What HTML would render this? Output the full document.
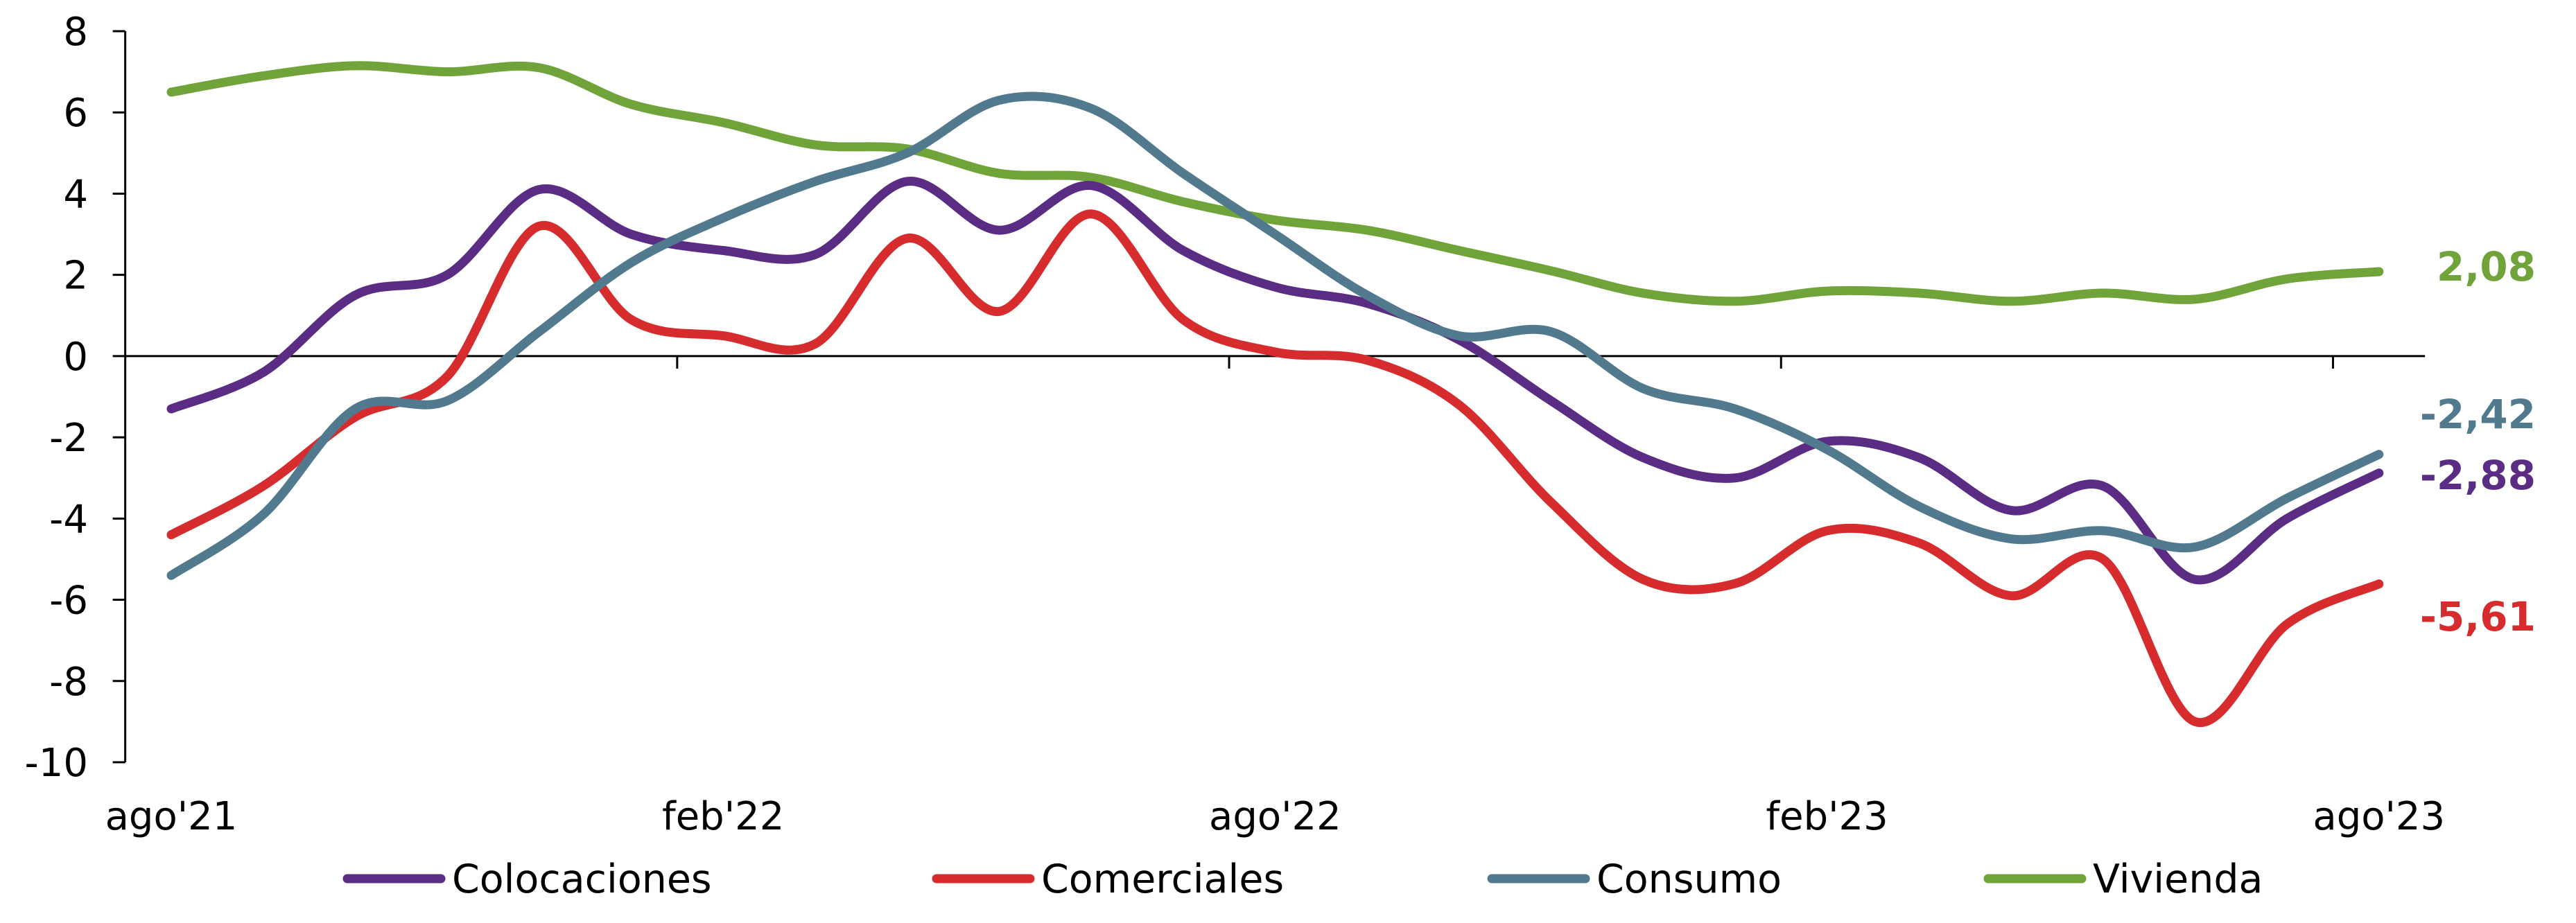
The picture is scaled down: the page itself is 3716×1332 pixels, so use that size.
<!DOCTYPE html>
<html><head><meta charset="utf-8"><style>
html,body{margin:0;padding:0;background:#fff;}
svg{display:block;font-family:"DejaVu Sans","Liberation Sans",sans-serif;}
</style></head><body>
<svg id="chart" width="3716" height="1332" viewBox="0 0 3716 1332" xmlns="http://www.w3.org/2000/svg">
<g id="axes"></g>
<g id="series"></g>
<g id="legend"></g>
</svg>
<script>
const categories = ["ago'21","sep'21","oct'21","nov'21","dic'21","ene'22","feb'22","mar'22","abr'22","may'22","jun'22","jul'22","ago'22","sep'22","oct'22","nov'22","dic'22","ene'23","feb'23","mar'23","abr'23","may'23","jun'23","jul'23","ago'23"];
const colocaciones = [-1.3,-0.4,1.5,2.0,4.1,3.0,2.6,2.5,4.3,3.1,4.2,2.6,1.7,1.3,0.4,-1.1,-2.5,-3.0,-2.1,-2.5,-3.8,-3.2,-5.5,-4.0,-2.88];
const comerciales = [-4.4,-3.2,-1.5,-0.5,3.2,0.9,0.5,0.3,2.9,1.1,3.5,0.9,0.1,-0.1,-1.2,-3.6,-5.5,-5.6,-4.3,-4.6,-5.9,-5.0,-9.0,-6.6,-5.61];
const consumo = [-5.4,-3.9,-1.3,-1.1,0.6,2.3,3.4,4.3,5.0,6.3,6.1,4.5,3.0,1.5,0.5,0.6,-0.8,-1.3,-2.3,-3.7,-4.5,-4.3,-4.7,-3.5,-2.42];
const vivienda = [6.5,6.9,7.15,7.0,7.1,6.2,5.75,5.2,5.1,4.5,4.4,3.8,3.35,3.1,2.6,2.1,1.55,1.35,1.6,1.55,1.35,1.55,1.4,1.9,2.08];
const yTicks = [8,6,4,2,0,-2,-4,-6,-8,-10];
const xLabelIdx = [0,6,12,18,24];
const endLabels = ["-2,88","-5,61","-2,42","2,08"];
const seriesNames = ["Colocaciones","Comerciales","Consumo","Vivienda"];

const NS="http://www.w3.org/2000/svg";
const colors=["#5B2C83","#D62C2E","#527A8E","#70A43A"];
const x0=247, dx=132.7, yTop=45, yBot=1100, vMax=8, vMin=-10;
const X=i=>x0+dx*i;
const Y=v=>yTop+(vMax-v)*(yBot-yTop)/(vMax-vMin);
function mk(tag,attrs,parent){const e=document.createElementNS(NS,tag);for(const k in attrs)e.setAttribute(k,attrs[k]);parent.appendChild(e);return e;}
const axes=document.getElementById('axes');
let ya=mk('line',{x1:X(-0.5),y1:Y(8),x2:X(-0.5),y2:Y(-10),stroke:'#000','stroke-width':3},axes);


yTicks.forEach(v=>{
  let t=mk('line',{x1:X(-0.5)-18,y1:Y(v),x2:X(-0.5),y2:Y(v),stroke:'#000','stroke-width':3},axes);
  
  
  let l=mk('text',{x:127,y:Y(v)+20,'text-anchor':'end','font-size':56,fill:'#000'},axes);
  l.textContent=String(v);
  
  
});
let za=mk('line',{x1:X(-0.5),y1:Y(0),x2:X(24.5),y2:Y(0),stroke:'#000','stroke-width':3},axes);


xLabelIdx.forEach(i=>{
  if(i>0){let t=mk('line',{x1:X(i-0.5),y1:Y(0),x2:X(i-0.5),y2:Y(0)+18,stroke:'#000','stroke-width':3},axes);
  
  }
  let l=mk('text',{x:X(i),y:1197,'text-anchor':'middle','font-size':56,fill:'#000'},axes);
  l.textContent=categories[i];
  
  
});
function smooth(vals){
  const p=vals.map((v,i)=>[X(i),Y(v)]);
  let d='M'+p[0][0]+','+p[0][1];
  for(let i=0;i<p.length-1;i++){
    const a=p[Math.max(i-1,0)],b=p[i],c=p[i+1],e=p[Math.min(i+2,p.length-1)];
    const t=1/6;
    const c1=[b[0]+(c[0]-a[0])*t,b[1]+(c[1]-a[1])*t];
    const c2=[c[0]-(e[0]-b[0])*t,c[1]-(e[1]-b[1])*t];
    d+=' C'+c1[0]+','+c1[1]+' '+c2[0]+','+c2[1]+' '+c[0]+','+c[1];
  }
  return d;
}
const sg=document.getElementById('series');
const all=[colocaciones,comerciales,consumo,vivienda];
const order=[3,0,1,2];
const keys=['colocaciones','comerciales','consumo','vivienda'];
order.forEach(k=>{
  let p=mk('path',{d:smooth(all[k]),fill:'none',stroke:colors[k],'stroke-width':13,'stroke-linecap':'round','stroke-linejoin':'round'},sg);
  
  
});
const labelY=[685,889,597,384];
endLabels.forEach((s,k)=>{
  let l=mk('text',{x:3658,y:labelY[k]+21,'text-anchor':'end','font-size':58,'font-weight':'bold',fill:colors[k]},sg);
  l.textContent=s;
  
  
});
const lg=document.getElementById('legend');
const lx=[501,1351,2152,2868];
seriesNames.forEach((n,k)=>{
  let ln=mk('line',{x1:lx[k],y1:1268,x2:lx[k]+135,y2:1268,stroke:colors[k],'stroke-width':13,'stroke-linecap':'round'},lg);
  
  
  let t=mk('text',{x:lx[k]+151,y:1288,'font-size':57,fill:'#000'},lg);
  t.textContent=n;
  
  
});
</script>
</body></html>
